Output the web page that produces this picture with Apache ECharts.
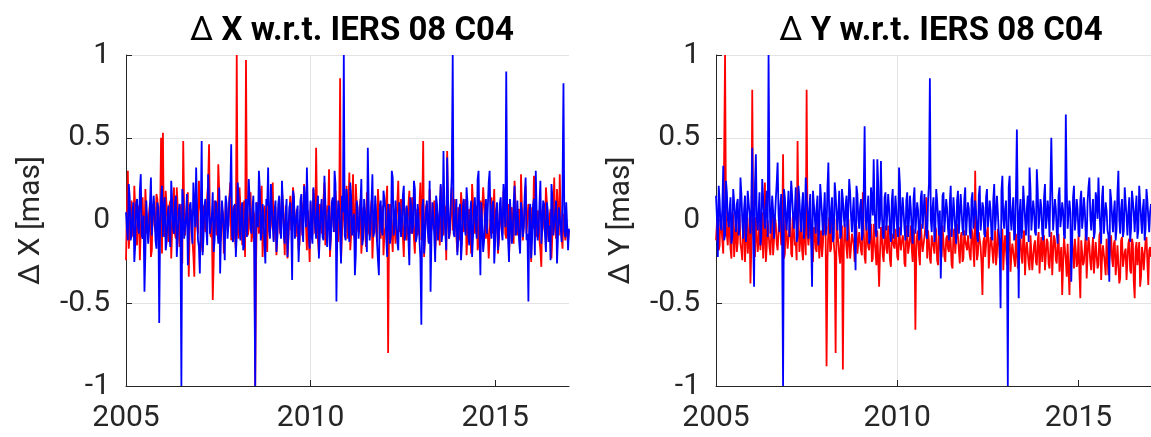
<!DOCTYPE html>
<html>
<head>
<meta charset="utf-8">
<script src="https://cdn.jsdelivr.net/npm/echarts@6/dist/echarts.min.js"></script>
<style>
html,body{margin:0;padding:0;background:#fff;}
#chart{width:1151px;height:437px;}
</style>
</head>
<body>
<div id="chart"></div>
<script>
// Sampling epochs: main sessions at START + i*STEP, intermediate sessions half a step later
const EPOCH_START = 2005;
const EPOCH_STEP = 0.05;

const panelTitles = ['Δ X w.r.t. IERS 08 C04', 'Δ Y w.r.t. IERS 08 C04'];
const yAxisNames = ['Δ X [mas]', 'Δ Y [mas]'];
const xTickLabels = [2005, 2010, 2015];
const yTickLabels = [-1, -0.5, 0, 0.5, 1];

// Δ X panel — red series (main sessions)
const xRed = [
  -0.24, 0.30, -0.08, 0.12, -0.10, 0.07, -0.15, 0.09, -0.06, 0.14, -0.12, 0.05, -0.09, 0.11, -0.18, 0.08, -0.07, 0.13, -0.11, 0.50,
  0.53, -0.10, 0.09, -0.13, 0.12, -0.06, 0.20, -0.11, 0.08, -0.16, 0.10, 0.48, -0.09, 0.11, -0.34, 0.07, -0.12, -0.34, 0.13, -0.08,
  0.10, -0.14, 0.09, -0.07, 0.15, 0.46, -0.10, -0.48, 0.12, -0.09, 0.34, -0.13, 0.08, -0.20, 0.11, -0.06, 0.14, -0.12, 0.07, -0.10,
  1.00, -0.11, 0.08, -0.15, 0.12, 0.97, -0.09, 0.10, -0.13, 0.06, -1.00, 0.11, -0.08, 0.14, -0.22, 0.09, -0.10, 0.12, -0.07, 0.10,
  -0.12, 0.08, -0.09, 0.13, -0.06, 0.10, -0.21, 0.09, -0.11, 0.15, -0.07, 0.12, -0.10, 0.08, -0.14, 0.11, -0.08, 0.10, -0.18, 0.07,
  0.11, -0.09, 0.07, 0.44, -0.12, 0.10, -0.08, 0.13, -0.15, 0.09, 0.31, -0.10, 0.12, -0.07, 0.08, -0.13, 0.86, -0.09, 0.11, -0.06,
  -0.11, 0.29, -0.08, 0.28, -0.12, 0.09, -0.07, 0.13, -0.10, 0.08, -0.16, 0.11, -0.09, 0.12, -0.06, 0.10, -0.13, 0.07, -0.11, 0.09,
  -0.08, 0.12, -0.80, 0.10, -0.09, 0.07, -0.14, 0.11, -0.07, 0.13, -0.10, 0.08, -0.12, 0.09, -0.06, 0.14, -0.11, 0.07, -0.09, 0.10,
  -0.12, 0.48, -0.08, 0.10, -0.13, 0.09, -0.07, 0.12, -0.10, 0.08, -0.15, 0.11, -0.09, 0.07, 0.42, -0.11, 0.09, -0.06, 0.13, -0.10,
  0.08, -0.12, 0.10, -0.07, 0.13, -0.09, 0.07, -0.20, 0.11, -0.08, 0.09, -0.13, 0.12, -0.06, 0.10, -0.11, 0.08, -0.09, 0.14, -0.07,
  -0.10, 0.09, -0.13, 0.07, -0.08, 0.12, -0.11, 0.10, -0.06, 0.08, -0.14, 0.11, -0.09, 0.07, 0.28, -0.12, 0.09, -0.08, 0.10, -0.11,
  0.08, 0.27, -0.10, 0.06, -0.12, -0.28, 0.09, -0.08, 0.11, -0.13, 0.07, -0.09, 0.26, -0.11, 0.05, 0.28, -0.10, 0.04, -0.12, -0.03,
  -0.06
];
// Δ X panel — red series (intermediate sessions)
const xRedMid = [
  0.08, -0.17, 0.04, -0.06, 0.21, -0.09, 0.03, -0.24, 0.07, -0.04, 0.19, -0.08, 0.05, -0.22, 0.10, -0.03, 0.16, -0.07, 0.04, -0.20,
  -0.06, 0.18, -0.03, 0.09, -0.23, 0.05, -0.08, 0.20, -0.04, 0.07, -0.26, 0.06, -0.09, 0.17, -0.05, 0.04, -0.21, 0.08, -0.03, 0.24,
  0.05, -0.19, 0.08, -0.04, 0.22, -0.07, 0.03, -0.25, 0.06, -0.05, 0.18, -0.09, 0.04, -0.21, 0.07, -0.03, 0.23, -0.06, 0.09, -0.17,
  -0.07, 0.20, -0.04, 0.06, -0.22, 0.09, -0.05, 0.17, -0.08, 0.03, -0.24, 0.07, -0.04, 0.21, -0.06, 0.05, -0.19, 0.08, -0.03, 0.23,
  0.06, -0.21, 0.04, -0.08, 0.18, -0.05, 0.09, -0.23, 0.03, -0.06, 0.20, -0.04, 0.07, -0.18, 0.05, -0.09, 0.22, -0.03, 0.06, -0.25,
  -0.05, 0.19, -0.08, 0.04, -0.20, 0.07, -0.03, 0.23, -0.06, 0.05, -0.22, 0.09, -0.04, 0.18, -0.07, 0.03, -0.24, 0.06, -0.05, 0.21,
  0.07, -0.18, 0.03, -0.09, 0.22, -0.05, 0.06, -0.20, 0.08, -0.04, 0.17, -0.07, 0.05, -0.23, 0.04, -0.06, 0.19, -0.08, 0.03, -0.21,
  -0.04, 0.21, -0.07, 0.05, -0.19, 0.08, -0.03, 0.24, -0.06, 0.04, -0.22, 0.07, -0.05, 0.18, -0.08, 0.03, -0.20, 0.06, -0.04, 0.23,
  0.05, -0.22, 0.08, -0.03, 0.19, -0.06, 0.04, -0.18, 0.07, -0.05, 0.21, -0.04, 0.09, -0.24, 0.03, -0.07, 0.20, -0.05, 0.06, -0.19,
  -0.06, 0.17, -0.04, 0.08, -0.21, 0.05, -0.07, 0.22, -0.03, 0.06, -0.18, 0.09, -0.05, 0.20, -0.04, 0.07, -0.23, 0.04, -0.08, 0.19,
  0.04, -0.20, 0.07, -0.05, 0.18, -0.08, 0.03, -0.22, 0.06, -0.04, 0.24, -0.06, 0.05, -0.19, 0.08, -0.03, 0.21, -0.07, 0.04, -0.25,
  -0.05, 0.22, -0.08, 0.04, -0.18, 0.06, -0.04, 0.20, -0.07, 0.03, -0.23, 0.05, -0.06, 0.19, -0.09, -0.02, -0.17, 0.04, -0.08, -0.12
];

// Δ X panel — blue series (main sessions)
const xBlue = [
  0.05, -0.12, 0.14, -0.09, 0.11, -0.15, 0.13, -0.08, 0.28, -0.11, -0.43, 0.12, -0.14, 0.10, -0.09, 0.15, -0.12, 0.11, -0.62, 0.13,
  -0.10, 0.14, -0.13, 0.09, -0.16, 0.12, -0.08, 0.15, -0.11, 0.10, -1.00, 0.13, -0.12, 0.16, -0.09, 0.11, -0.14, 0.10, 0.32, -0.12,
  -0.32, 0.48, -0.10, 0.13, -0.15, 0.11, -0.09, 0.17, -0.12, 0.10, -0.14, -0.32, 0.12, -0.08, 0.15, -0.11, 0.13, 0.46, -0.13, 0.10,
  -0.09, 0.14, -0.12, 0.11, -0.16, 0.13, -0.10, 0.12, -0.08, 0.15, -1.00, 0.11, 0.30, -0.12, 0.10, -0.14, 0.13, 0.32, -0.11, 0.09,
  -0.13, 0.12, -0.09, 0.15, -0.11, 0.10, -0.14, 0.13, -0.08, 0.11, -0.36, 0.14, -0.12, 0.09, -0.10, 0.16, -0.13, 0.11, 0.32, -0.09,
  0.12, -0.14, 0.10, -0.11, 0.15, -0.09, 0.13, -0.12, 0.11, -0.16, 0.09, -0.10, 0.14, 0.30, -0.49, 0.12, -0.08, 0.15, 1.00, -0.12,
  0.11, -0.13, 0.14, -0.09, -0.33, 0.12, -0.11, 0.10, -0.15, 0.13, -0.08, 0.44, -0.12, 0.11, -0.10, 0.15, -0.13, -0.33, 0.12, -0.09,
  0.13, -0.11, 0.10, -0.14, 0.30, -0.09, 0.12, -0.13, 0.11, -0.10, 0.15, -0.12, 0.09, -0.11, 0.14, -0.08, 0.24, -0.13, 0.10, -0.12,
  -0.63, 0.13, -0.10, 0.12, -0.14, -0.43, 0.11, -0.09, 0.15, -0.12, 0.10, -0.13, 0.42, -0.08, 0.38, -0.11, 0.12, 1.00, -0.10, 0.13,
  -0.12, 0.10, -0.14, 0.13, -0.09, 0.11, -0.15, 0.12, -0.10, 0.14, -0.11, 0.30, -0.33, 0.10, -0.12, 0.13, -0.09, 0.30, -0.11, 0.12,
  -0.13, 0.11, -0.10, 0.14, -0.12, 0.09, 0.90, -0.11, 0.13, -0.14, 0.10, -0.09, 0.12, -0.13, 0.11, -0.10, 0.15, -0.12, -0.49, 0.10,
  -0.11, 0.13, 0.30, -0.12, 0.10, -0.14, 0.12, -0.09, 0.11, -0.13, -0.24, 0.14, -0.10, 0.12, -0.11, 0.09, -0.13, 0.83, -0.10, 0.11,
  -0.05
];
// Δ X panel — blue series (intermediate sessions)
const xBlueMid = [
  -0.05, 0.22, -0.12, 0.06, -0.25, 0.10, -0.04, 0.18, -0.09, 0.03, -0.20, 0.12, -0.06, 0.26, -0.10, 0.05, -0.17, 0.08, -0.03, 0.21,
  0.07, -0.18, 0.04, -0.08, 0.24, -0.05, 0.11, -0.22, 0.06, -0.03, 0.19, -0.11, 0.02, -0.27, 0.09, -0.06, 0.23, -0.04, 0.08, -0.16,
  0.05, -0.21, 0.09, -0.04, 0.28, -0.08, 0.03, -0.19, 0.12, -0.05, 0.20, -0.07, 0.04, -0.24, 0.10, -0.03, 0.17, -0.09, 0.06, -0.22,
  0.23, -0.06, 0.08, -0.18, 0.04, -0.10, 0.25, -0.05, 0.07, -0.21, 0.11, -0.04, 0.19, -0.08, 0.03, -0.26, 0.09, -0.06, 0.22, -0.03,
  0.06, -0.19, 0.10, -0.05, 0.24, -0.09, 0.04, -0.22, 0.08, -0.03, 0.18, -0.11, 0.05, -0.25, 0.12, -0.06, 0.21, -0.04, 0.07, -0.17,
  -0.08, 0.20, -0.04, 0.09, -0.23, 0.06, -0.10, 0.27, -0.05, 0.03, -0.18, 0.11, -0.07, 0.22, -0.04, 0.08, -0.26, 0.05, -0.09, 0.19,
  -0.05, 0.23, -0.09, 0.04, -0.21, 0.08, -0.03, 0.25, -0.11, 0.06, -0.19, 0.10, -0.04, 0.28, -0.07, 0.05, -0.24, 0.09, -0.06, 0.18,
  0.07, -0.22, 0.04, -0.09, 0.26, -0.05, 0.11, -0.18, 0.06, -0.03, 0.21, -0.08, 0.05, -0.27, 0.09, -0.04, 0.19, -0.10, 0.03, -0.23,
  0.08, -0.20, 0.05, -0.06, 0.24, -0.09, 0.03, -0.25, 0.10, -0.04, 0.22, -0.07, 0.06, -0.18, 0.11, -0.05, 0.27, -0.08, 0.04, -0.21,
  0.06, -0.24, 0.09, -0.04, 0.20, -0.10, 0.05, -0.22, 0.07, -0.03, 0.25, -0.06, 0.11, -0.19, 0.04, -0.08, 0.23, -0.05, 0.09, -0.26,
  0.05, -0.18, 0.10, -0.06, 0.22, -0.04, 0.08, -0.25, 0.03, -0.09, 0.21, -0.07, 0.12, -0.20, 0.05, -0.04, 0.26, -0.08, 0.06, -0.23,
  0.09, -0.21, 0.04, -0.07, 0.24, -0.05, 0.10, -0.19, 0.06, -0.03, 0.22, -0.09, 0.05, -0.26, 0.08, -0.04, 0.20, -0.06, 0.11, -0.18
];

// Δ Y panel — red series (main sessions)
const yRed = [
  -0.12, 0.06, -0.15, 0.03, -0.20, 1.00, -0.09, 0.02, -0.17, 0.05, -0.22, 0.01, -0.13, 0.04, -0.18, -0.02, -0.25, 0.03, -0.11, -0.38,
  0.79, -0.14, 0.02, -0.19, 0.04, -0.10, -0.23, 0.23, -0.16, 0.01, -0.21, 0.03, -0.12, -0.02, -0.18, 0.05, -0.15, 0.40, -0.20, 0.00,
  -0.16, 0.02, -0.22, 0.04, -0.13, 0.48, -0.19, -0.01, -0.24, 0.03, 0.79, -0.15, 0.01, -0.20, -0.04, -0.17, 0.02, -0.23, -0.06, -0.14,
  0.01, -0.88, -0.05, -0.19, 0.02, -0.14, -0.80, 0.00, -0.21, -0.06, -0.90, -0.02, -0.17, 0.01, -0.23, -0.08, -0.15, -0.01, -0.20, -0.07,
  -0.18, 0.17, -0.22, -0.03, -0.16, -0.09, -0.25, -0.02, -0.19, -0.06, -0.40, -0.04, -0.21, -0.10, -0.17, -0.03, -0.24, -0.08, -0.15, -0.05,
  -0.22, -0.04, -0.18, -0.09, -0.26, -0.03, -0.20, -0.11, -0.17, -0.05, -0.66, -0.08, -0.21, -0.02, -0.19, -0.10, 0.14, -0.06, -0.23, -0.09,
  -0.16, -0.04, -0.24, -0.08, -0.19, -0.03, -0.22, -0.11, -0.17, -0.05, -0.27, -0.07, -0.20, -0.02, -0.18, -0.10, -0.25, -0.06, -0.15, -0.09,
  -0.21, -0.05, -0.18, 0.30, -0.24, -0.07, -0.16, -0.45, -0.10, -0.22, -0.04, -0.19, -0.12, -0.26, -0.06, -0.20, -0.09, -0.23, -0.05, -0.17,
  -0.10, -0.24, -0.07, -0.20, -0.13, -0.28, -0.08, -0.21, -0.11, -0.26, -0.06, -0.19, -0.14, -0.30, -0.09, -0.22, -0.12, -0.27, -0.07, -0.18,
  -0.25, -0.09, -0.21, -0.13, -0.29, -0.07, -0.19, -0.12, -0.26, -0.08, -0.22, -0.45, -0.10, -0.24, -0.14, -0.45, -0.06, -0.20, -0.11, -0.28,
  -0.09, -0.47, -0.13, -0.25, -0.08, -0.21, -0.15, -0.30, -0.10, -0.23, -0.12, -0.27, -0.07, -0.22, -0.14, -0.33, -0.11, -0.24, -0.09, -0.28,
  -0.12, -0.26, -0.15, -0.35, -0.10, -0.29, -0.17, -0.24, -0.11, -0.32, -0.14, -0.47, -0.13, -0.27, -0.40, -0.16, -0.30, -0.12, -0.25, -0.18,
  -0.22
];
// Δ Y panel — red series (intermediate sessions)
const yRedMid = [
  -0.02, -0.18, 0.04, -0.12, -0.21, 0.02, -0.15, -0.05, -0.23, 0.03, -0.10, -0.19, 0.01, -0.14, -0.24, 0.04, -0.08, -0.20, 0.02, -0.16,
  -0.04, -0.22, 0.03, -0.13, -0.18, 0.05, -0.11, -0.25, 0.00, -0.16, -0.07, -0.21, 0.02, -0.14, -0.19, 0.04, -0.09, -0.23, 0.01, -0.17,
  -0.05, -0.20, 0.03, -0.15, -0.24, 0.01, -0.12, -0.18, 0.04, -0.21, -0.08, -0.16, 0.02, -0.25, -0.06, -0.19, 0.03, -0.13, -0.22, 0.00,
  -0.10, -0.24, 0.02, -0.17, -0.06, -0.21, 0.01, -0.14, -0.26, -0.03, -0.18, -0.09, -0.23, 0.00, -0.16, -0.11, -0.25, -0.04, -0.19, -0.08,
  -0.21, -0.06, -0.26, -0.10, -0.18, -0.02, -0.23, -0.12, -0.27, -0.05, -0.19, -0.09, -0.25, -0.03, -0.20, -0.13, -0.28, -0.07, -0.17, -0.11,
  -0.24, -0.05, -0.19, -0.12, -0.28, -0.07, -0.21, -0.03, -0.25, -0.10, -0.18, -0.06, -0.27, -0.11, -0.20, -0.04, -0.23, -0.13, -0.26, -0.08,
  -0.20, -0.06, -0.27, -0.12, -0.22, -0.04, -0.25, -0.09, -0.19, -0.13, -0.29, -0.05, -0.21, -0.10, -0.26, -0.07, -0.23, -0.12, -0.18, -0.08,
  -0.24, -0.08, -0.28, -0.11, -0.20, -0.06, -0.26, -0.13, -0.22, -0.07, -0.29, -0.10, -0.19, -0.14, -0.27, -0.05, -0.23, -0.12, -0.30, -0.09,
  -0.27, -0.11, -0.31, -0.14, -0.24, -0.08, -0.29, -0.16, -0.22, -0.10, -0.33, -0.13, -0.26, -0.09, -0.30, -0.15, -0.25, -0.12, -0.32, -0.10,
  -0.14, -0.30, -0.11, -0.26, -0.17, -0.33, -0.09, -0.24, -0.13, -0.31, -0.16, -0.27, -0.10, -0.34, -0.15, -0.22, -0.12, -0.29, -0.18, -0.25,
  -0.31, -0.12, -0.27, -0.16, -0.35, -0.10, -0.25, -0.18, -0.32, -0.13, -0.29, -0.09, -0.36, -0.15, -0.26, -0.11, -0.33, -0.17, -0.23, -0.14,
  -0.33, -0.15, -0.38, -0.12, -0.28, -0.19, -0.36, -0.14, -0.30, -0.11, -0.37, -0.17, -0.27, -0.13, -0.34, -0.20, -0.29, -0.10, -0.39, -0.16
];

// Δ Y panel — blue series (main sessions)
const yBlue = [
  0.15, -0.22, 0.12, -0.06, 0.33, -0.09, 0.17, -0.04, 0.14, -0.10, 0.18, -0.07, 0.13, -0.05, 0.16, -0.11, 0.15, -0.03, 0.19, -0.08,
  0.44, -0.40, 0.40, -0.06, 0.17, -0.09, 0.14, -0.05, 0.18, 1.00, -0.08, 0.15, -0.11, 0.13, 0.35, -0.07, 0.16, -1.00, 0.14, -0.06,
  0.18, -0.09, 0.15, -0.05, 0.20, -0.10, 0.13, -0.07, 0.17, -0.04, 0.14, -0.11, 0.16, -0.40, 0.19, -0.08, 0.15, -0.06, 0.13, -0.09,
  0.17, -0.05, 0.35, -0.08, 0.14, -0.10, 0.16, -0.06, 0.18, -0.09, 0.13, -0.04, 0.15, -0.11, 0.17, -0.07, 0.14, -0.30, 0.16, -0.05,
  0.13, -0.08, 0.57, -0.06, 0.15, -0.10, 0.12, 0.37, -0.07, 0.37, -0.05, 0.36, -0.09, 0.14, -0.06, 0.16, -0.08, 0.12, -0.11, 0.15,
  -0.07, 0.32, -0.09, 0.14, -0.05, 0.12, -0.10, 0.15, -0.06, 0.13, -0.08, 0.11, -0.12, 0.14, -0.05, 0.16, -0.09, 0.12, 0.86, -0.07,
  0.14, -0.06, 0.12, -0.09, -0.35, 0.15, -0.07, 0.13, -0.05, 0.11, -0.10, 0.14, -0.06, 0.12, -0.08, 0.16, -0.05, 0.13, -0.09, 0.11,
  -0.07, 0.13, -0.05, 0.12, -0.09, 0.15, -0.06, 0.11, -0.08, 0.14, -0.04, 0.12, -0.10, 0.13, -0.06, 0.15, -0.07, -0.53, 0.27, -0.05,
  0.12, -1.00, 0.27, -0.06, 0.14, -0.08, 0.55, -0.47, 0.13, -0.05, 0.11, -0.09, 0.15, 0.32, -0.06, 0.12, -0.07, 0.31, -0.05, 0.13,
  -0.08, 0.14, -0.05, 0.12, -0.10, 0.50, -0.06, 0.13, -0.07, 0.15, -0.04, 0.11, -0.09, 0.64, -0.05, 0.12, -0.37, 0.14, -0.06, 0.13,
  -0.08, 0.12, -0.05, 0.14, -0.09, 0.11, 0.26, -0.06, 0.13, -0.07, 0.12, 0.26, -0.05, 0.14, -0.08, 0.11, -0.06, -0.37, 0.13, -0.07,
  0.12, -0.05, 0.30, -0.08, 0.13, -0.06, 0.11, -0.09, 0.14, -0.05, 0.12, -0.07, 0.15, -0.06, 0.11, -0.08, 0.13, -0.05, 0.12, -0.07,
  0.10
];
// Δ Y panel — blue series (intermediate sessions)
const yBlueMid = [
  0.02, 0.21, -0.03, 0.08, -0.12, 0.24, 0.01, 0.06, -0.14, 0.19, 0.03, 0.10, -0.09, 0.26, 0.00, 0.07, -0.13, 0.18, 0.04, 0.09,
  -0.11, 0.22, 0.02, 0.05, -0.15, 0.25, 0.03, 0.08, -0.10, 0.20, 0.01, 0.06, -0.12, 0.23, 0.04, 0.09, -0.14, 0.19, 0.02, 0.07,
  -0.10, 0.24, 0.03, 0.06, -0.13, 0.21, 0.01, 0.09, -0.11, 0.26, 0.04, 0.07, -0.12, 0.18, 0.02, 0.08, -0.15, 0.22, 0.03, 0.05,
  -0.09, 0.20, 0.01, 0.07, -0.13, 0.23, 0.04, 0.06, -0.11, 0.19, 0.02, 0.09, -0.12, 0.25, 0.03, 0.05, -0.10, 0.21, 0.01, 0.08,
  -0.12, 0.18, 0.02, 0.06, -0.14, 0.20, 0.03, 0.07, -0.10, 0.22, 0.01, 0.05, -0.11, 0.17, 0.04, 0.08, -0.13, 0.19, 0.02, 0.06,
  -0.10, 0.21, 0.03, 0.05, -0.12, 0.17, 0.01, 0.07, -0.14, 0.20, 0.02, 0.06, -0.09, 0.18, 0.04, 0.05, -0.11, 0.22, 0.01, 0.08,
  -0.13, 0.19, 0.02, 0.06, -0.10, 0.17, 0.03, 0.07, -0.12, 0.21, 0.01, 0.05, -0.14, 0.18, 0.04, 0.06, -0.09, 0.20, 0.02, 0.07,
  -0.11, 0.17, 0.03, 0.05, -0.13, 0.21, 0.01, 0.08, -0.10, 0.19, 0.02, 0.06, -0.12, 0.22, 0.03, 0.05, -0.14, 0.18, 0.01, 0.07,
  -0.10, 0.20, 0.02, 0.06, -0.12, 0.17, 0.04, 0.05, -0.11, 0.21, 0.01, 0.07, -0.13, 0.19, 0.03, 0.06, -0.09, 0.18, 0.02, 0.08,
  -0.12, 0.22, 0.01, 0.05, -0.10, 0.17, 0.03, 0.07, -0.14, 0.20, 0.02, 0.06, -0.11, 0.19, 0.04, 0.05, -0.13, 0.21, 0.01, 0.07,
  -0.10, 0.18, 0.02, 0.06, -0.12, 0.20, 0.03, 0.05, -0.11, 0.17, 0.01, 0.08, -0.14, 0.21, 0.02, 0.06, -0.09, 0.19, 0.03, 0.05,
  -0.12, 0.17, 0.01, 0.07, -0.10, 0.20, 0.02, 0.05, -0.13, 0.18, 0.04, 0.06, -0.11, 0.21, 0.01, 0.07, -0.12, 0.19, 0.02, 0.05
];

// Interleave main sessions with intermediate sessions (half a step later)
function toPoints(main, mid) {
  const pts = [];
  for (let i = 0; i < main.length; i++) {
    pts.push([EPOCH_START + i * EPOCH_STEP, main[i]]);
    if (i < mid.length) pts.push([EPOCH_START + (i + 0.5) * EPOCH_STEP, mid[i]]);
  }
  return pts;
}

const FONT = 'Roboto, "DejaVu Sans", sans-serif';
const AX = '#262626';

const grids = [
  { left: 126, top: 55, width: 443, height: 331 },
  { left: 716, top: 55, width: 441, height: 331 }
];
const titleCenters = [347, 936];

function xAxisFor(gi) {
  return {
    type: 'value', gridIndex: gi, min: 2005, max: 2017, interval: 5,
    axisLine: { show: true, onZero: false, lineStyle: { color: AX, width: 1 } },
    axisTick: { show: true, inside: true, length: 6, lineStyle: { color: AX }, customValues: xTickLabels },
    axisLabel: { show: true, color: AX, fontSize: 30, fontFamily: FONT, margin: 17, customValues: xTickLabels,
                 formatter: function (v) { return String(v); } },
    splitLine: { show: true, showMaxLine: false, lineStyle: { color: '#e3e3e3', width: 1 } }
  };
}
function yAxisFor(gi) {
  return {
    type: 'value', gridIndex: gi, min: -1, max: 1, interval: 0.5,
    name: yAxisNames[gi], nameLocation: 'middle', nameGap: 80,
    nameTextStyle: { color: AX, fontSize: 30, fontFamily: FONT },
    axisLine: { show: true, onZero: false, lineStyle: { color: AX, width: 1 } },
    axisTick: { show: true, inside: true, length: 6, lineStyle: { color: AX } },
    axisLabel: { show: true, color: AX, fontSize: 30, fontFamily: FONT, margin: 16 },
    splitLine: { show: true, lineStyle: { color: '#e3e3e3', width: 1 } }
  };
}
function lineSeries(main, mid, color, gi) {
  return {
    type: 'line', xAxisIndex: gi, yAxisIndex: gi, data: toPoints(main, mid),
    showSymbol: false, symbol: 'none', clip: true, silent: true,
    lineStyle: { color: color, width: 1.8, join: 'miter', miterLimit: 2 }, itemStyle: { color: color }
  };
}

const chart = echarts.init(document.getElementById('chart'), null, { renderer: 'canvas' });
chart.setOption({
  animation: false,
  backgroundColor: '#ffffff',
  title: panelTitles.map(function (t, i) {
    return {
      text: '{d|Δ}' + t.slice(1), left: titleCenters[i], top: 10, textAlign: 'center',
      textStyle: { color: '#000', fontSize: 33, fontWeight: 'bold', fontFamily: FONT,
        rich: { d: { color: '#000', fontSize: 33, fontWeight: 'normal', fontFamily: FONT } } }
    };
  }),
  grid: grids,
  xAxis: [xAxisFor(0), xAxisFor(1)],
  yAxis: [yAxisFor(0), yAxisFor(1)],
  series: [
    lineSeries(xRed, xRedMid, '#ff0000', 0),
    lineSeries(xBlue, xBlueMid, '#0000ff', 0),
    lineSeries(yRed, yRedMid, '#ff0000', 1),
    lineSeries(yBlue, yBlueMid, '#0000ff', 1)
  ]
});
</script>
</body>
</html>
